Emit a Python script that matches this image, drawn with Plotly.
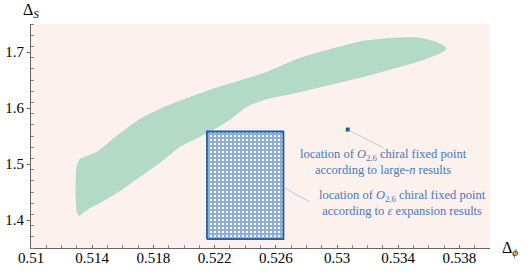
import plotly.graph_objects as go

# Allowed region (bootstrap island) boundary
island_dphi = [0.51314, 0.51301, 0.51294, 0.51301, 0.5132, 0.51366, 0.51431, 0.51536,
               0.51712, 0.51889, 0.5219, 0.52529, 0.52745, 0.52967, 0.53183, 0.53399,
               0.53529, 0.53641, 0.53706, 0.53712, 0.53686, 0.53575, 0.53399, 0.53183,
               0.52967, 0.52745, 0.52529, 0.52412, 0.52301, 0.52216, 0.52105, 0.51974,
               0.51843, 0.51712, 0.51562, 0.51451, 0.51386, 0.5134, 0.51314]
island_ds = [1.4079, 1.4151, 1.4545, 1.4957, 1.5082, 1.5136, 1.5208, 1.5441,
             1.5799, 1.6032, 1.6337, 1.6624, 1.6875, 1.7052, 1.7195, 1.7250,
             1.7250, 1.7180, 1.7090, 1.7052, 1.7000, 1.6875, 1.6731, 1.6570,
             1.6427, 1.6283, 1.6158, 1.6032, 1.5799, 1.5656, 1.5495, 1.5315,
             1.5029, 1.4778, 1.4491, 1.4312, 1.4222, 1.4133, 1.4079]

# epsilon-expansion box
eps_dphi = [0.5215, 0.5265]
eps_ds = [1.366, 1.558]

# large-n point
largen_dphi = [0.5307]
largen_ds = [1.5615]

x_ticks = [0.51, 0.514, 0.518, 0.522, 0.526, 0.53, 0.534, 0.538]
x_ticklabels = ["0.51", "0.514", "0.518", "0.522", "0.526", "0.53", "0.534", "0.538"]
y_ticks = [1.4, 1.5, 1.6, 1.7]
y_ticklabels = ["1.4", "1.5", "1.6", "1.7"]

BLUE = "#1d5ca6"
TXT = "#4679b6"
LEAD = "#a9bcd6"
FONT = "'Liberation Serif', 'DejaVu Serif', serif"

fig = go.Figure()

fig.add_trace(go.Scatter(
    x=island_dphi, y=island_ds, mode="lines", fill="toself",
    fillcolor="#b2dac7", line=dict(color="#a9d4c0", width=0.8, shape="spline", smoothing=0.6),
    hoverinfo="skip", showlegend=False))

fig.add_trace(go.Scatter(
    x=[eps_dphi[0], eps_dphi[1], eps_dphi[1], eps_dphi[0], eps_dphi[0]],
    y=[eps_ds[0], eps_ds[0], eps_ds[1], eps_ds[1], eps_ds[0]],
    mode="lines", fill="toself", fillcolor="white",
    fillpattern=dict(shape="+", fgcolor=BLUE, bgcolor="white", size=4, solidity=0.75),
    line=dict(color=BLUE, width=1.8), hoverinfo="skip", showlegend=False))

fig.add_trace(go.Scatter(
    x=largen_dphi, y=largen_ds, mode="markers",
    marker=dict(symbol="square", size=4, color=BLUE),
    hoverinfo="skip", showlegend=False))

# leader lines
fig.add_annotation(x=largen_dphi[0], y=largen_ds[0], text="", showarrow=True,
                   arrowhead=0, arrowwidth=0.8, arrowcolor=LEAD, ax=37, ay=19,
                   standoff=2)
fig.add_annotation(x=eps_dphi[1], y=1.458, text="", showarrow=True,
                   arrowhead=0, arrowwidth=0.8, arrowcolor=LEAD, ax=28, ay=15,
                   standoff=1)

fig.add_annotation(x=0.53301, y=1.5029,
                   text="location of <i>O</i><sub>2,6</sub> chiral fixed point<br>according to large-<i>n</i> results",
                   showarrow=False, font=dict(family=FONT, size=12.5, color=TXT), align="center")
fig.add_annotation(x=0.53428, y=1.4303,
                   text="location of <i>O</i><sub>2,6</sub> chiral fixed point<br>according to <i>ε</i> expansion results",
                   showarrow=False, font=dict(family=FONT, size=12.5, color=TXT), align="center")

# axis titles
fig.add_annotation(xref="paper", yref="paper", x=0.0, y=1.0, xanchor="center", yanchor="bottom",
                   yshift=2, text="Δ<sub><i>S</i></sub>", showarrow=False,
                   font=dict(family=FONT, size=16, color="black"))
fig.add_annotation(xref="paper", yref="paper", x=1.0, y=0.0, xanchor="left", yanchor="middle",
                   xshift=10, text="Δ<sub><i>ϕ</i></sub>", showarrow=False,
                   font=dict(family=FONT, size=16, color="black"))

axis_common = dict(showgrid=False, zeroline=False, showline=True, linecolor="#666666",
                   linewidth=1, tickcolor="#666666", ticklen=3,
                   tickfont=dict(family=FONT, size=15, color="black"), mirror=False,
                   automargin=False)

fig.update_xaxes(range=[0.51, 0.54], tickvals=x_ticks, ticktext=x_ticklabels, ticks="inside",
                 ticklabelstandoff=-4,
                 minor=dict(dtick=0.001, ticks="inside", ticklen=3, tickcolor="#888888"),
                 **axis_common)
fig.update_yaxes(range=[1.35, 1.75], tickvals=y_ticks, ticktext=y_ticklabels, ticks="outside",
                 minor=dict(dtick=0.02, tick0=1.35, ticks="inside", ticklen=3, tickcolor="#888888"),
                 **axis_common)

fig.update_layout(
    width=529, height=273,
    margin=dict(l=31, r=39, t=24, b=25, autoexpand=False),
    plot_bgcolor="#fdf1ed", paper_bgcolor="white",
    font=dict(family=FONT),
)

fig.write_html("out.html", config={"displayModeBar": False},
               post_script="document.body.style.margin='0';")
